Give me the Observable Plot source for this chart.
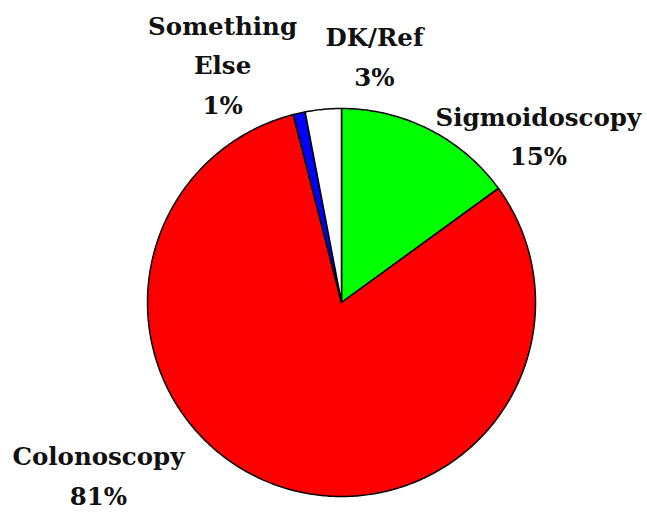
<!DOCTYPE html>
<html><head><meta charset="utf-8">
<script src="https://cdn.jsdelivr.net/npm/d3@7"></script>
<script src="https://cdn.jsdelivr.net/npm/@observablehq/plot@0.6"></script>
<style>body{margin:0;background:#fff}</style>
</head><body><div id="chart"></div>
<script>
const categories = ["Sigmoidoscopy", "Colonoscopy", "Something Else", "DK/Ref"];
const values = [15, 81, 1, 3];
const labels = ["Sigmoidoscopy\n15%", "Colonoscopy\n81%", "Something\nElse\n1%", "DK/Ref\n3%"];
const colors = ["#00ff00", "#ff0000", "#0000ff", "#ffffff"];

// layout: label centres in pie-radius units relative to the pie centre
const labelLayout = [
  {dx: 1.015, dy: 0.875},
  {dx: -1.253, dy: -0.875},
  {dx: -0.613, dy: 1.242},
  {dx: 0.170, dy: 1.285}
];

const W = 647, H = 514, cx = 341, cy = 302, R = 194;
const total = d3.sum(values);
const pts = [];
let acc = 0;
values.forEach((v, i) => {
  const a0 = acc / total * 2 * Math.PI, a1 = (acc + v) / total * 2 * Math.PI;
  acc += v;
  pts.push({cat: categories[i], x: 0, y: 0});
  const n = Math.max(2, Math.ceil((a1 - a0) / 0.01));
  for (let k = 0; k <= n; k++) {
    const a = a0 + (a1 - a0) * k / n;
    pts.push({cat: categories[i], x: Math.sin(a), y: Math.cos(a)});
  }
  pts.push({cat: categories[i], x: 0, y: 0});
});
const lab = labels.map((t, i) => ({text: t, x: labelLayout[i].dx, y: labelLayout[i].dy}));

const chart = Plot.plot({
  width: W, height: H,
  margin: 0,
  x: {domain: [-cx / R, (W - cx) / R], range: [0, W], axis: null},
  y: {domain: [-(H - cy) / R, cy / R], range: [H, 0], axis: null},
  color: {domain: categories, range: colors},
  style: {background: "#fff"},
  marks: [
    Plot.line(pts, {x: "x", y: "y", z: "cat", fill: "cat", stroke: "#000", strokeWidth: 1.5, curve: "linear", strokeLinejoin: "round"}),
    Plot.text(lab, {x: "x", y: "y", text: "text", fontSize: 24.5, fontWeight: "bold", fontFamily: "DejaVu Serif", fill: "#111", lineHeight: 1.62, textAnchor: "middle", lineAnchor: "middle"})
  ]
});
document.getElementById("chart").appendChild(chart);
</script>
</body></html>
